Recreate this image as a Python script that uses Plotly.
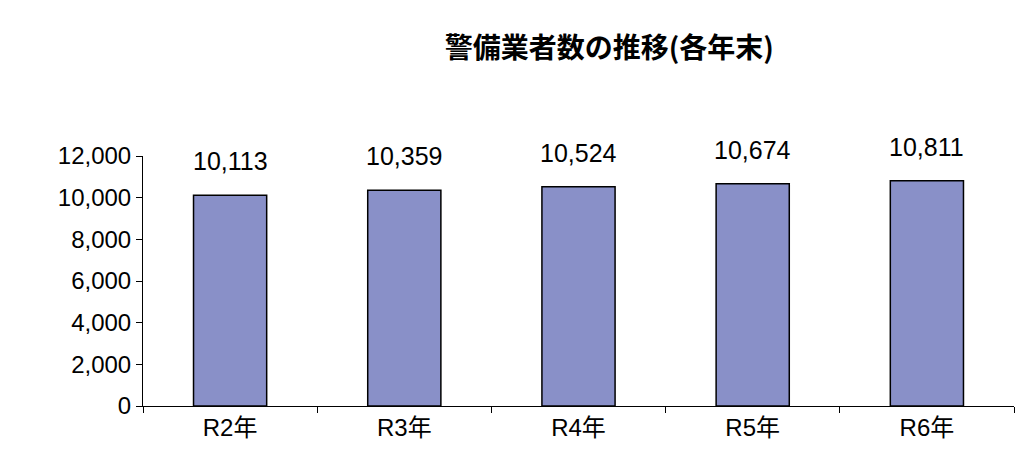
import plotly.graph_objects as go

years = ["R2年", "R3年", "R4年", "R5年", "R6年"]
counts = [10113, 10359, 10524, 10674, 10811]
count_labels = [f"{v:,}" for v in counts]

fig = go.Figure(go.Bar(
    x=years, y=counts,
    marker=dict(color="#8990C8", line=dict(color="black", width=1.5)),
    width=0.42,
))

# data labels sit well above the bars, as in the original
for yr, v, lab in zip(years, counts, count_labels):
    fig.add_annotation(x=yr, y=v, text=lab, showarrow=False, yshift=34,
                       font=dict(size=25, color="black"))

fig.update_layout(
    width=1028, height=463,
    margin=dict(l=135, r=22, t=148, b=65),
    plot_bgcolor="white", paper_bgcolor="white",
    title=dict(text="<b>警備業者数の推移(各年末)</b>", x=0.585, y=0.935, xanchor="center",
               font=dict(size=28, color="black", family="Noto Sans CJK JP")),
    font=dict(family="Liberation Sans, Noto Sans CJK JP", size=24, color="black"),
    showlegend=False,
)
fig.update_yaxes(range=[0, 12000], tickvals=[0, 2000, 4000, 6000, 8000, 10000, 12000],
                 tickformat=",", showgrid=False, showline=True, linecolor="black",
                 ticks="outside", ticklen=6, tickcolor="black", zeroline=False)
fig.update_xaxes(showline=True, linecolor="black", ticks="outside", ticklen=6,
                 tickcolor="black", tickson="boundaries", showgrid=False)

fig.write_html("out.html")
